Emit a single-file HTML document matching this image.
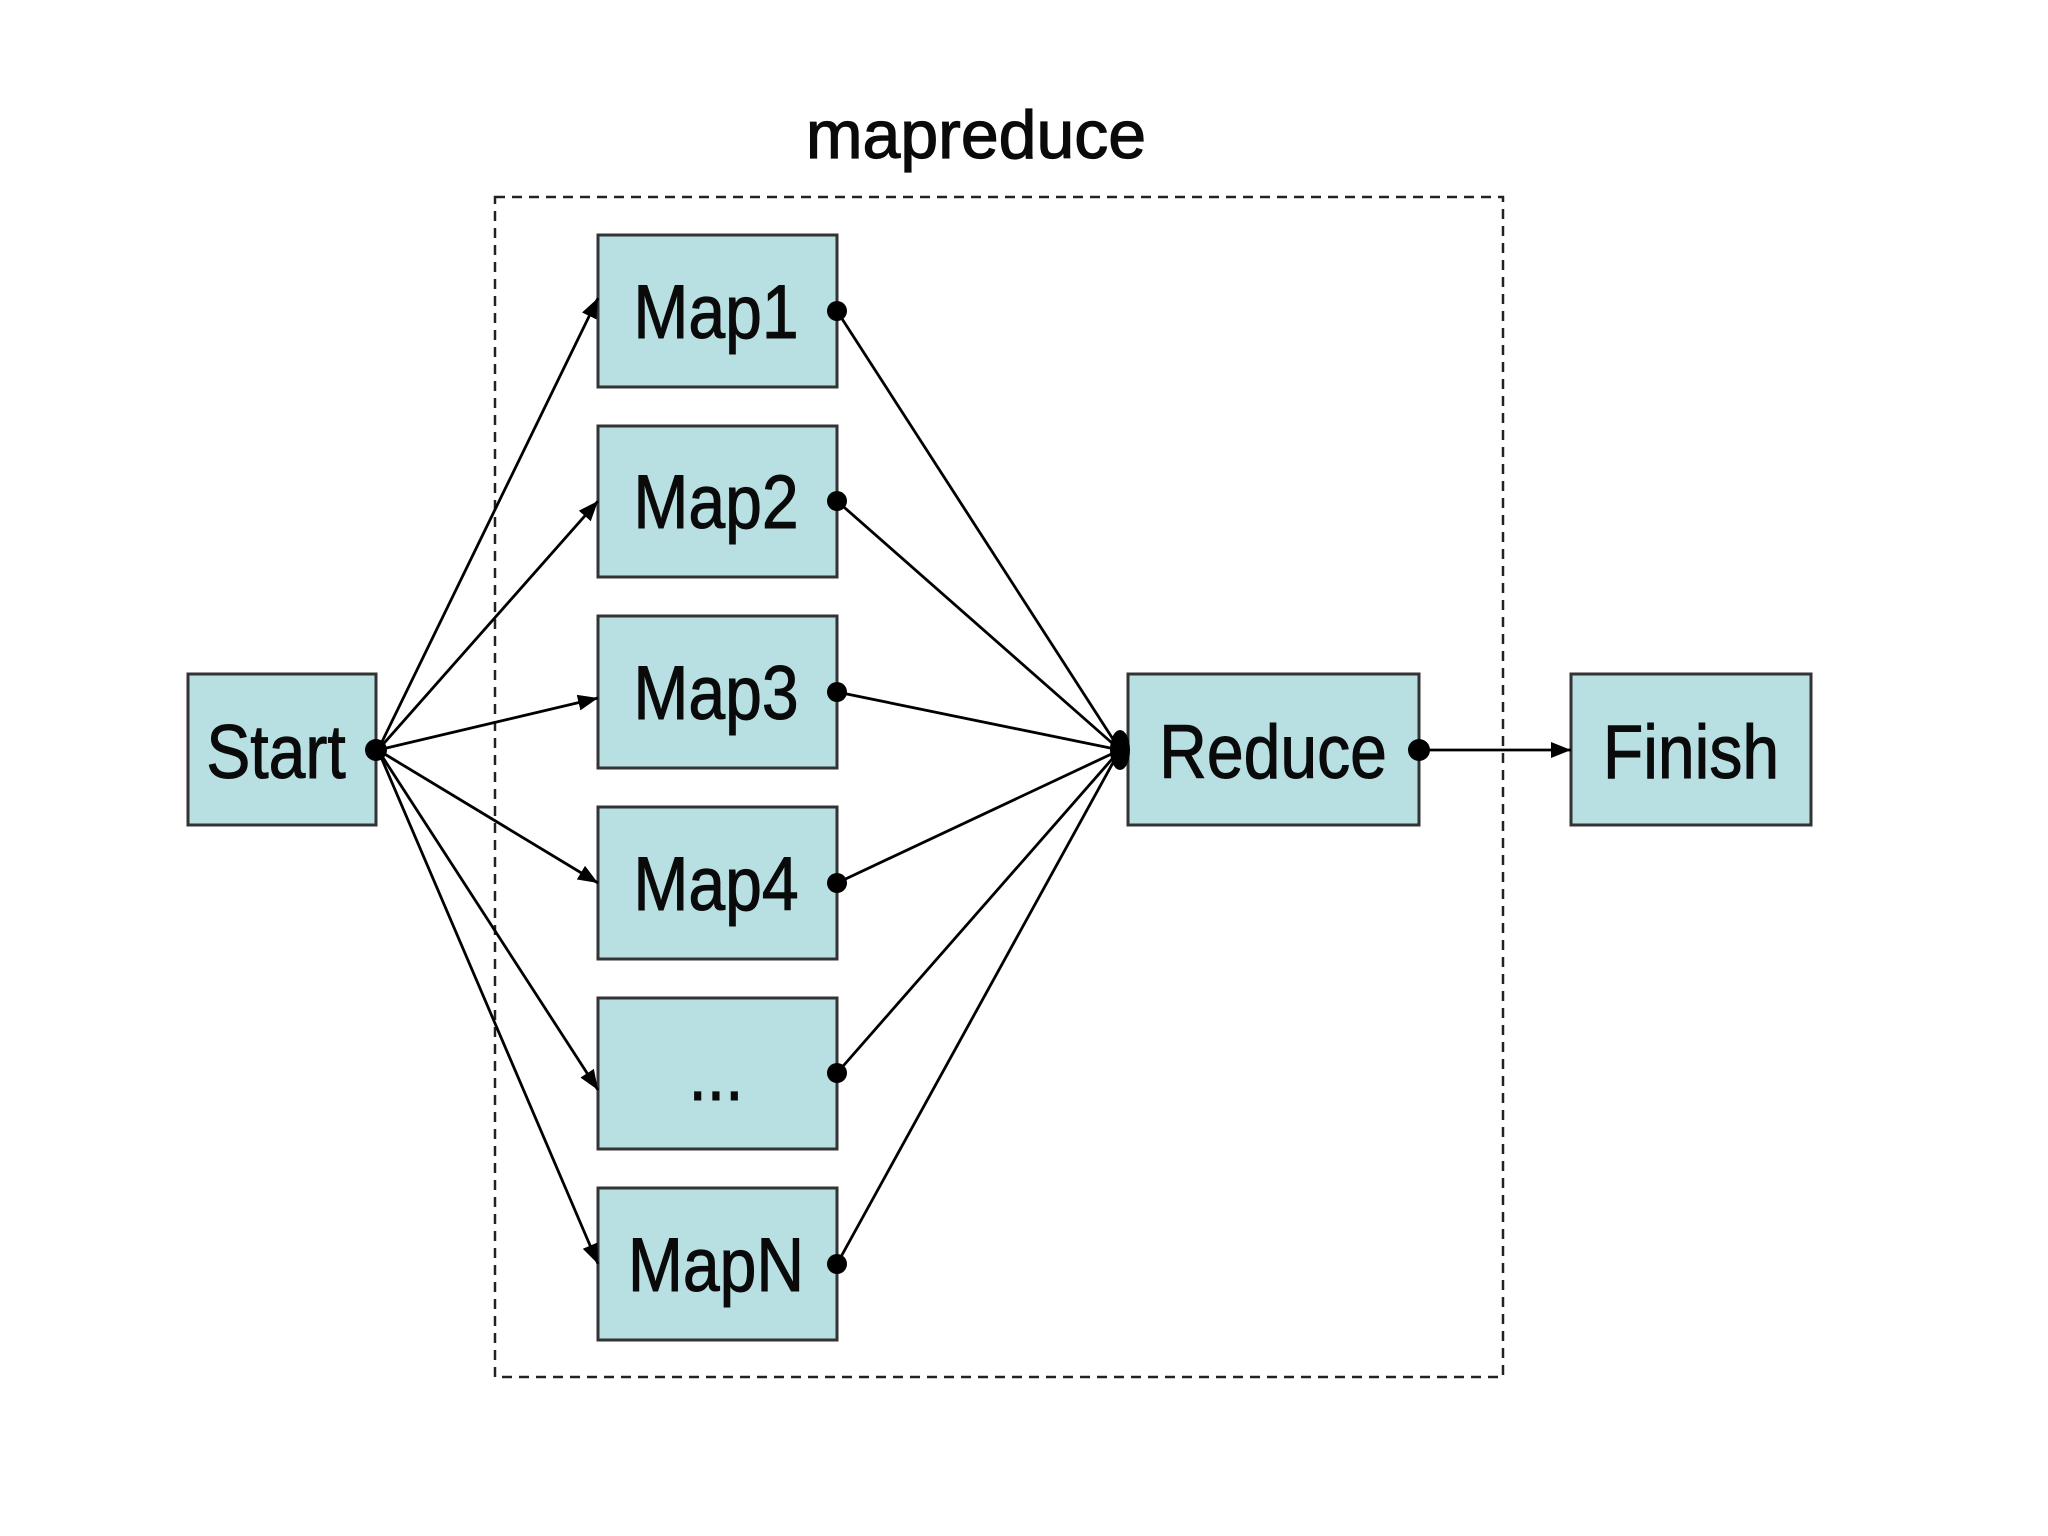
<!DOCTYPE html>
<html><head><meta charset="utf-8"><style>
html,body{margin:0;padding:0;background:#fff;}
svg{display:block;}
text{font-family:"Liberation Sans",Arial,sans-serif;fill:#0a0a0a;}
</style></head><body>
<svg width="2048" height="1536" viewBox="0 0 2048 1536" xmlns="http://www.w3.org/2000/svg">
<defs>
<marker id="ah" markerWidth="20" markerHeight="16" refX="20" refY="8" orient="auto" markerUnits="userSpaceOnUse" viewBox="0 0 20 16">
<path d="M0,0 L20,8 L0,16 z" fill="#000"/>
</marker>
</defs>
<rect width="2048" height="1536" fill="#fff"/>
<text x="976" y="158" font-size="68" text-anchor="middle" stroke="#0a0a0a" stroke-width="1.2">mapreduce</text>
<rect x="495" y="197" width="1008" height="1180" fill="none" stroke="#222" stroke-width="2.5" stroke-dasharray="10,7"/>
<g fill="#b8dfe2" stroke="#333" stroke-width="3">
<rect x="188" y="674" width="188" height="151"/>
<rect x="598" y="235" width="239" height="152"/>
<rect x="598" y="426" width="239" height="151"/>
<rect x="598" y="616" width="239" height="152"/>
<rect x="598" y="807" width="239" height="152"/>
<rect x="598" y="998" width="239" height="151"/>
<rect x="598" y="1188" width="239" height="152"/>
<rect x="1128" y="674" width="291" height="151"/>
<rect x="1571" y="674" width="240" height="151"/>
</g>
<g stroke="#000" stroke-width="2.8" fill="none" marker-end="url(#ah)">
<line x1="378" y1="750" x2="598" y2="298"/>
<line x1="378" y1="750" x2="598" y2="501"/>
<line x1="378" y1="750" x2="598" y2="698"/>
<line x1="378" y1="750" x2="598" y2="883"/>
<line x1="378" y1="750" x2="598" y2="1090"/>
<line x1="378" y1="750" x2="598" y2="1264"/>
<line x1="1419" y1="750" x2="1571" y2="750"/>
</g>
<g stroke="#000" stroke-width="2.8">
<line x1="837" y1="311" x2="1120" y2="750"/>
<line x1="837" y1="501" x2="1120" y2="750"/>
<line x1="837" y1="692" x2="1120" y2="750"/>
<line x1="837" y1="883" x2="1120" y2="750"/>
<line x1="837" y1="1073" x2="1120" y2="750"/>
<line x1="837" y1="1264" x2="1120" y2="750"/>
</g>
<g fill="#000">
<circle cx="376" cy="750" r="11"/>
<circle cx="837" cy="311" r="10"/>
<circle cx="837" cy="501" r="10"/>
<circle cx="837" cy="692" r="10"/>
<circle cx="837" cy="883" r="10"/>
<circle cx="837" cy="1073" r="10"/>
<circle cx="837" cy="1264" r="10"/>
<ellipse cx="1120" cy="750" rx="10" ry="20"/>
<circle cx="1419" cy="750" r="11"/>
</g>
<g font-size="76" text-anchor="middle" stroke="#0a0a0a" stroke-width="1">
<text transform="translate(276,778) scale(0.87,1)">Start</text>
<text transform="translate(716,338) scale(0.87,1)">Map1</text>
<text transform="translate(716,528) scale(0.87,1)">Map2</text>
<text transform="translate(716,719) scale(0.87,1)">Map3</text>
<text transform="translate(716,910) scale(0.87,1)">Map4</text>
<text transform="translate(716,1100) scale(0.87,1)">...</text>
<text transform="translate(716,1291) scale(0.87,1)">MapN</text>
<text transform="translate(1273,778) scale(0.87,1)">Reduce</text>
<text transform="translate(1691,778) scale(0.87,1)">Finish</text>
</g>
</svg>
</body></html>
